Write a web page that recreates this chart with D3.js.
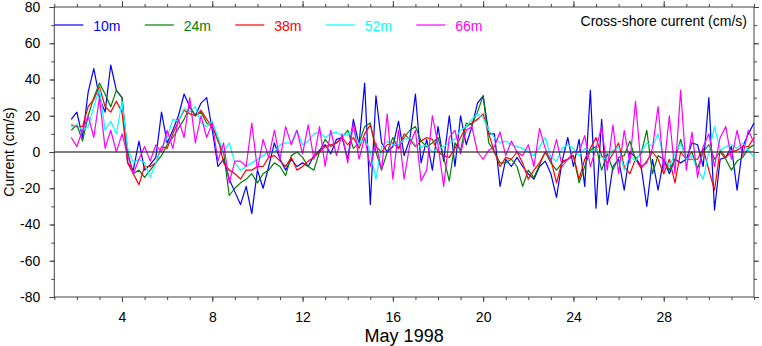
<!DOCTYPE html>
<html>
<head>
<meta charset="utf-8">
<script src="https://cdn.jsdelivr.net/npm/d3@7"></script>
<style>
  body { margin: 0; background: #fff; }
  text { font-family: "Liberation Sans", Arial, sans-serif; }
</style>
</head>
<body>
<div id="chart"></div>
<script>
// Samples every 6 hours, starting 1.75 May 1998
const startDay = 1.75;
const stepDay = 0.25;

const depths = ["10m", "24m", "38m", "52m", "66m"];
const colors = ["#0000ff", "#008000", "#ff0000", "#00ffff", "#ff00ff"];

// cross-shore current (cm/s)
const u10 = [18,
  22, 8, 33, 46,   30, 22, 48, 34,   30, -6, -10, 6,   -10, -7, -3, 22,
  5, 12, 20, 32,   25, 20, 27, 30,   12, -8, -4, -15,  -22, -29, -19, -34,
  -10, -20, -8, 5, -4, -10, -4, -8,  -6, -8, -2, 1,    4, -1, 7, 8,
  -4, 18, 4, 38,   -29, 31, 5, 0,    3, 17, -2, 7,     32, -6, 7, -10,
  14, -5, 20, -8,  20, 4, 14, 27,    31, 10, 10, -19,  -4, -8, -3, -8,
  -12, -15, -8, -5, -12, -25, -5, 8, -8, 7, -19, 34,   -31, 18, -29, -8,
  -4, -21, 0, -3,  -8, -30, -4, -21, -4, -12, -4, -6,  -4, 5, 4, -8,
  30, -32, -4, -3, 3, -21, 3, 10,
  16];
const u24 = [12,
  15, 6, 20, 30,   38, 32, 25, 34,   30, 0, -12, -10,  -14, -10, -6, -2,
  4, 8, 13, 18,    25, 20, 22, 16,   14, 6, 0, -24,    -20, -17, -15, -12,
  -17, -12, -10, -6, -8, -13, -2, 0, -3, -8, -10, 0,   7, 3, 5, 8,
  12, 2, 5, 14,    16, 0, -10, 0,    8, 2, 8, 12,      14, 6, 3, 5,
  8, -3, -16, 5,   1, 16, 15, 22,    31, 5, 0, -6,     -6, -4, -8, -19,
  -10, -14, -7, 0, -6, -10, -6, -4,  -2, -17, -8, 1,   3, -10, -1, -10,
  -3, -2, 6, -4,   -1, 12, -12, -2,  -4, -10, -4, 7,   -4, 0, -9, 0,
  4, -4, 0, -4,    -10, -5, -3, 2,
  4];
const u38 = [15,
  14, 14, 25, 29,  36, 25, 22, 28,   22, -6, -12, -18, -8, -8, -6, 3,
  2, 10, 17, 23,   21, 20, 23, 18,   14, 8, -6, -10,   -12, -15, -10, -10,
  -8, -8, -3, -2,  -5, -8, -3, -10,  -8, -5, -3, 0,    3, 4, 5, 8,
  4, 8, 2, 10,     15, 3, 0, 4,      5, 2, 10, 7,      3, 6, 8, 7,
  0, -2, -3, 2,    8, 14, 16, 18,    21, 10, 0, -8,    -3, -4, 0, -6,
  -15, -10, -6, 0, -4, -17, -5, -4,  -2, -15, -4, 2,   8, -2, -6, -1,
  5, -8, -12, -4,  -9, -5, 0, -4,    -12, -4, -17, 0,  -4, -4, -4, 2,
  -10, -21, 1, -3, 0, 1, 3, 3,
  8];
const u52 = [14,
  15, 12, 14, 25,  35, 12, 17, 10,   28, 2, -6, -4,    -6, -14, -6, 2,
  8, 18, 17, 24,   22, 25, 16, 14,   17, 8, 0, 5,      -6, -10, -8, -6,
  -4, -2, 0, 0,    4, 5, 5, 12,      4, 6, 10, 11,     8, 10, 11, 9,
  10, 12, 4, 8,    0, -15, 3, 6,     4, 4, 7, 8,       4, 3, 4, 0,
  2, 3, 5, 7,      12, 14, 18, 21,   19, 12, 8, 5,     6, 4, 3, 2,
  0, -2, 3, 8,     -3, -5, 2, 4,     2, -2, 2, 0,      2, -3, -4, 1,
  3, -10, -2, -5,  0, 5, 3, 10,      -3, -8, -1, 5,    -4, -2, -10, -15,
  0, 14, 1, 3,     4, 2, 5, 1,
  -3];
const u66 = [8,
  3, 12, 20, 8,    30, 2, 12, 0,     10, -2, -12, -4,  3, -5, 4, 0,
  12, 2, 18, 8,    30, 5, 20, 8,     16, -5, 5, -17,   -5, -5, -8, 16,
  -10, 7, -3, 12,  -4, 14, 4, 12,    -1, 15, -4, 14,   -8, 12, -2, 10,
  -6, 16, -4, 8,   -8, 5, -10, 21,   -15, 12, -15, 4,  12, -16, -10, 20,
  4, -19, 8, 12,   -1, 12, 14, 0,    -4, 1, 3, 11,     -2, 6, 0, -2,
  4, -8, 13, 2,    -5, 7, -8, -4,    0, 0, 9, -8,      2, 14, -10, 15,
  -12, 12, -6, 28, -8, -6, 2, 25,    -10, 20, -12, 34, -10, 11, -14, 3,
  10, -8, 8, 14,   -4, 12, -2, 12,
  5];

const seriesValues = [u10, u24, u38, u52, u66];

const majorDays = [4, 8, 12, 16, 20, 24, 28];
const minorDays = d3.range(1, 33);
const majorY = [-80, -60, -40, -20, 0, 20, 40, 60, 80];
const minorY = d3.range(-80, 81, 10);

function init() {
    const width = 762;
    const height = 346;
    const margin = { left: 54.3, right: 8, top: 7, bottom: 49 };

    const svg = d3.select("#chart").append("svg")
                  .attr("width", width)
                  .attr("height", height);

    const x = d3.scaleLinear()
                .domain([1, 32])
                .range([margin.left, width - margin.right]);
    const y = d3.scaleLinear()
                .domain([-80, 80])
                .range([height - margin.bottom, margin.top]);

    const axisColor = "#444";

    // helper to style an axis group
    function styleAxis(g) {
        g.select(".domain").remove();
        g.selectAll(".tick line").attr("stroke", axisColor);
        g.selectAll(".tick text")
         .attr("fill", "#000")
         .style("font-size", "14px")
         .style("font-family", "'Liberation Sans', Arial, sans-serif");
    }

    const bottomY = y(-80), topY = y(80), leftX = x(1), rightX = x(32);

    // minor ticks
    svg.append("g").attr("transform", `translate(0,${bottomY})`)
       .call(d3.axisBottom(x).tickValues(minorDays).tickSize(3).tickFormat(""))
       .call(styleAxis);
    svg.append("g").attr("transform", `translate(0,${topY})`)
       .call(d3.axisTop(x).tickValues(minorDays).tickSize(3).tickFormat(""))
       .call(styleAxis);
    svg.append("g").attr("transform", `translate(${leftX},0)`)
       .call(d3.axisLeft(y).tickValues(minorY).tickSize(3).tickFormat(""))
       .call(styleAxis);
    svg.append("g").attr("transform", `translate(${rightX},0)`)
       .call(d3.axisRight(y).tickValues(minorY).tickSize(3).tickFormat(""))
       .call(styleAxis);

    // major ticks
    svg.append("g").attr("transform", `translate(0,${bottomY})`)
       .call(d3.axisBottom(x).tickValues(majorDays).tickSize(5).tickPadding(10).tickFormat(d3.format("d")))
       .call(styleAxis);
    svg.append("g").attr("transform", `translate(0,${topY})`)
       .call(d3.axisTop(x).tickValues(majorDays).tickSize(6).tickFormat(""))
       .call(styleAxis);
    svg.append("g").attr("transform", `translate(${leftX},0)`)
       .call(d3.axisLeft(y).tickValues(majorY).tickSize(5).tickPadding(9).tickFormat(d => d))
       .call(styleAxis);
    svg.append("g").attr("transform", `translate(${rightX},0)`)
       .call(d3.axisRight(y).tickValues(majorY).tickSize(5).tickFormat(""))
       .call(styleAxis);

    // frame
    svg.append("rect")
       .attr("x", leftX).attr("y", topY)
       .attr("width", rightX - leftX).attr("height", bottomY - topY)
       .attr("fill", "none")
       .attr("stroke", axisColor)
       .attr("stroke-width", 1);

    // data lines
    const line = d3.line()
                   .x((d, i) => x(startDay + i * stepDay))
                   .y(d => y(d));

    seriesValues.forEach((vals, k) => {
        svg.append("path")
           .datum(vals)
           .attr("d", line)
           .attr("fill", "none")
           .attr("stroke", colors[k])
           .attr("stroke-width", 1.2)
           .attr("stroke-linejoin", "round");
    });

    // zero line
    svg.append("line")
       .attr("x1", leftX).attr("x2", rightX)
       .attr("y1", y(0)).attr("y2", y(0))
       .attr("stroke", "#333")
       .attr("stroke-opacity", 0.85)
       .attr("stroke-width", 1.5);

    // legend
    const legend = svg.append("g");
    depths.forEach((name, k) => {
        const lx = leftX + k * 90.5;
        legend.append("line")
              .attr("x1", lx).attr("x2", lx + 29)
              .attr("y1", 25).attr("y2", 25)
              .attr("stroke", colors[k])
              .attr("stroke-width", 1.2);
        legend.append("text")
              .attr("x", lx + 39).attr("y", 31)
              .attr("fill", colors[k])
              .style("font-size", "14px")
              .text(name);
    });

    svg.append("text")
       .attr("x", 747).attr("y", 26)
       .attr("text-anchor", "end")
       .style("font-size", "14px")
       .text("Cross-shore current (cm/s)");

    // axis titles
    svg.append("text")
       .attr("x", (leftX + rightX) / 2).attr("y", 342)
       .attr("text-anchor", "middle")
       .style("font-size", "18px")
       .text("May 1998");

    svg.append("text")
       .attr("transform", `translate(14,${y(0)}) rotate(-90)`)
       .attr("text-anchor", "middle")
       .style("font-size", "14px")
       .text("Current (cm/s)");
}

window.onload = init;
</script>
</body>
</html>
